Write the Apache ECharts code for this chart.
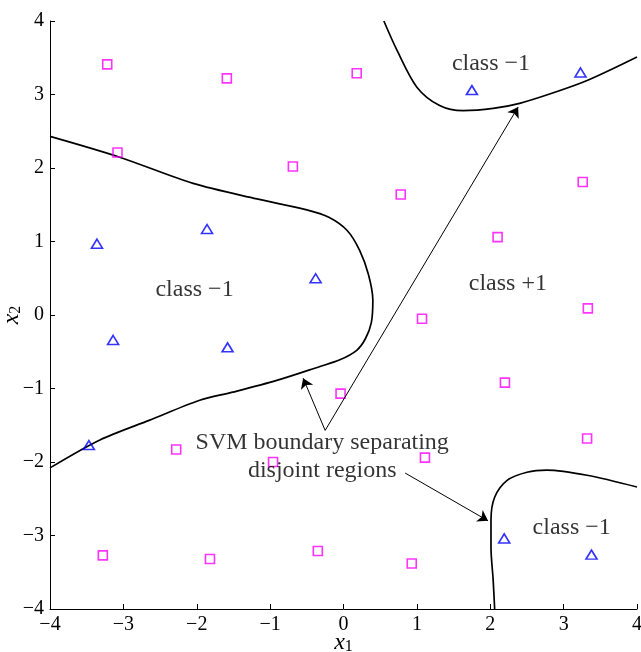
<!DOCTYPE html>
<html>
<head>
<meta charset="utf-8">
<script src="https://cdn.jsdelivr.net/npm/echarts@6/dist/echarts.min.js"></script>
<style>
  html, body { margin: 0; padding: 0; background: #fff; }
  #chart { width: 641px; height: 652px; }
</style>
</head>
<body>
<div id="chart"></div>
<script>
// class +1 points (magenta squares)
var squares = [
  [-3.22, 3.41], [-1.59, 3.22], [0.18, 3.29], [-3.08, 2.21], [-0.69, 2.02],
  [0.78, 1.64], [2.10, 1.06], [3.26, 1.81], [3.33, 0.09], [1.07, -0.05],
  [-0.04, -1.07], [2.20, -0.92], [3.32, -1.68], [1.11, -1.94], [-2.28, -1.83],
  [-0.96, -2.00], [-3.28, -3.27], [-1.82, -3.32], [-0.35, -3.21], [0.93, -3.38]
];
// class -1 points (blue triangles)
var triangles = [
  [-3.36, 0.97], [-1.86, 1.17], [-0.38, 0.50], [-3.14, -0.34], [-1.58, -0.44],
  [-3.47, -1.77], [1.75, 3.06], [3.23, 3.30], [2.19, -3.04], [3.38, -3.26]
];
// svm boundary, 3 pieces
var boundaryLeft = [
  [-4.0, 2.43], [-3.06, 2.15], [-2.05, 1.79], [-1.18, 1.58], [-0.50, 1.43],
  [-0.20, 1.33], [0.05, 1.15], [0.22, 0.88], [0.34, 0.55], [0.40, 0.20], [0.38, -0.10],
  [0.30, -0.32], [0.18, -0.48], [-0.05, -0.61], [-0.32, -0.70], [-0.91, -0.89],
  [-1.51, -1.05], [-1.96, -1.16], [-2.64, -1.43], [-3.32, -1.70], [-4.0, -2.08]
];
var boundaryTop = [
  [0.55, 4.0], [0.73, 3.60], [1.00, 3.10], [1.31, 2.85], [1.63, 2.78],
  [2.04, 2.81], [2.40, 2.88], [2.85, 3.02], [3.32, 3.19], [4.0, 3.51]
];
var boundaryBottom = [
  [2.06, -4.0], [2.04, -3.61], [2.01, -3.16], [2.01, -2.79], [2.06, -2.48],
  [2.23, -2.25], [2.50, -2.14], [2.77, -2.11], [3.32, -2.18], [4.0, -2.34]
];
// arrows: [from, to]
var arrows = [
  [[-0.25, -1.57], [-0.55, -0.86]],
  [[-0.25, -1.57], [2.38, 2.83]],
  [[0.84, -2.15], [1.97, -2.80]]
];
// region labels
var labels = [
  {name: 'class \u22121', value: [-2.03, 0.35]},
  {name: 'class \u22121', value: [2.01, 3.42]},
  {name: 'class +1', value: [2.24, 0.42]},
  {name: 'class \u22121', value: [3.11, -2.89]},
  {name: 'SVM boundary separating\ndisjoint regions', value: [-0.29, -1.93]}
];

var serif = '"Liberation Serif", "DejaVu Serif", serif';
var tickFmt = function (v) { return v < 0 ? '\u2212' + (-v) : '' + v; };

function curve(pts) {
  return {
    type: 'line', data: pts, showSymbol: false, smooth: 0.3, z: 3,
    lineStyle: {color: '#000', width: 1.7}, animation: false
  };
}

var axisName = {rich: {
  i: {fontFamily: serif, fontStyle: 'italic', fontSize: 24, color: '#000', lineHeight: 24},
  s: {fontFamily: serif, fontSize: 16, color: '#000', lineHeight: 16, padding: [8, 0, 0, 0]}
}};

var chart = echarts.init(document.getElementById('chart'));
chart.setOption({
  animation: false,
  grid: {left: 50, right: 4, top: 21, bottom: 43, containLabel: false, outerBoundsMode: 'none'},
  xAxis: {
    type: 'value', min: -4, max: 4, interval: 1,
    name: '{i|x}{s|1}', nameLocation: 'middle', nameGap: 22, nameMoveOverlap: false,
    nameTextStyle: axisName,
    axisLine: {onZero: false, lineStyle: {color: '#000', width: 1}},
    axisTick: {inside: true, length: 5, lineStyle: {color: '#000'}},
    axisLabel: {formatter: tickFmt, fontFamily: serif, fontSize: 20, color: '#000', margin: 6},
    splitLine: {show: false}
  },
  yAxis: {
    type: 'value', min: -4, max: 4, interval: 1,
    name: '{i|x}{s|2}', nameLocation: 'middle', nameGap: 26, nameMoveOverlap: false,
    nameTextStyle: axisName,
    axisLine: {onZero: false, lineStyle: {color: '#000', width: 1}},
    axisTick: {inside: true, length: 5, lineStyle: {color: '#000'}},
    axisLabel: {formatter: tickFmt, fontFamily: serif, fontSize: 20, color: '#000', margin: 6},
    splitLine: {show: false}
  },
  series: [
    curve(boundaryLeft),
    curve(boundaryTop),
    curve(boundaryBottom),
    {
      type: 'scatter', data: squares, symbol: 'rect', symbolSize: 9, z: 4,
      itemStyle: {color: 'rgba(0,0,0,0)', borderColor: '#ff00ff', borderWidth: 1.6}
    },
    {
      type: 'scatter', data: triangles, symbol: 'triangle', symbolSize: [11, 9], z: 4,
      itemStyle: {color: 'rgba(0,0,0,0)', borderColor: '#0000ff', borderWidth: 1.6}
    },
    {
      type: 'lines', coordinateSystem: 'cartesian2d', z: 5,
      data: arrows.map(function (a) { return {coords: a}; }),
      symbol: ['none', 'arrow'], symbolSize: [0, 10],
      lineStyle: {color: '#000', width: 1, opacity: 1}
    },
    {
      type: 'scatter', data: labels, symbolSize: 0, z: 6,
      label: {
        show: true, position: 'inside', formatter: '{b}',
        fontFamily: serif, fontSize: 24, color: '#000', lineHeight: 28, align: 'center'
      }
    }
  ]
});
</script>
</body>
</html>
